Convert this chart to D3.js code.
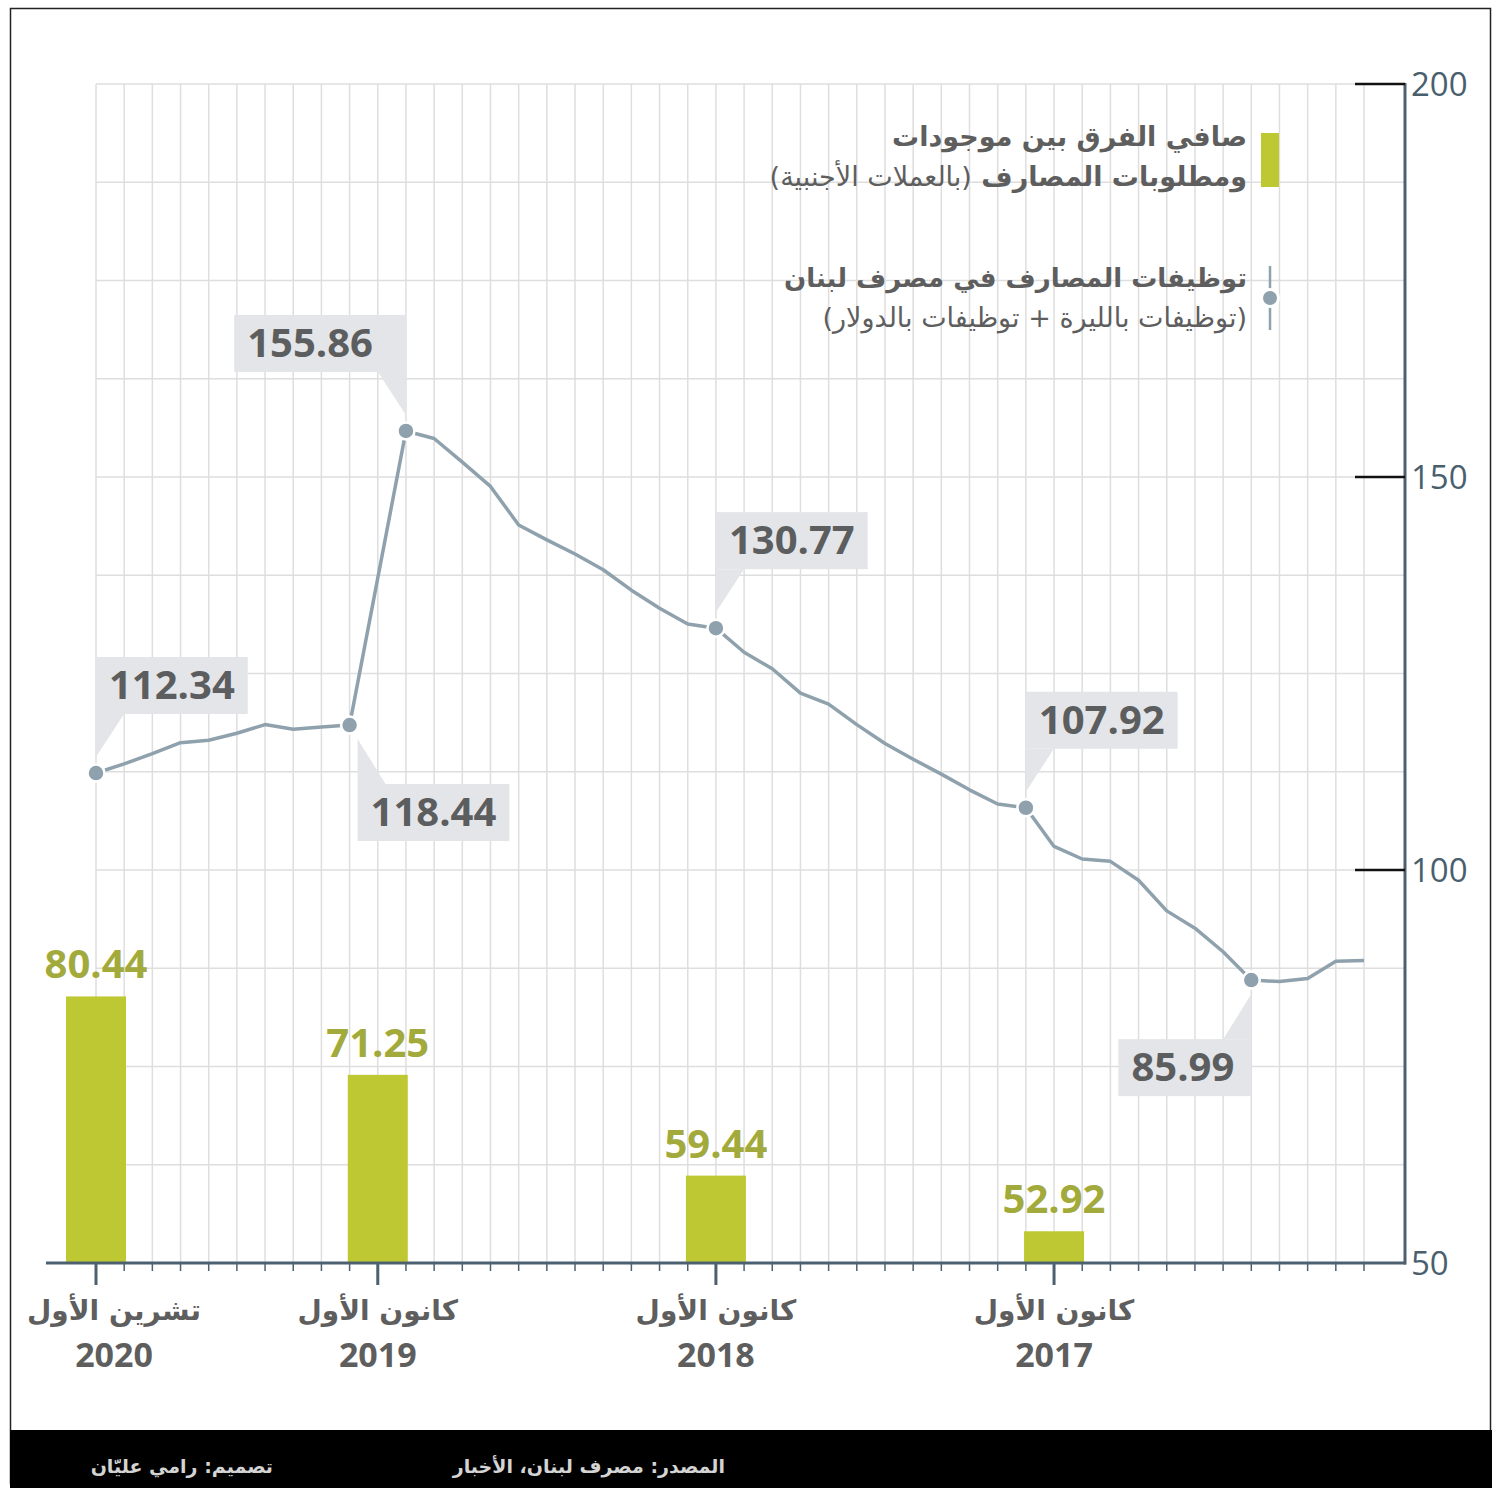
<!DOCTYPE html>
<html>
<head>
<meta charset="utf-8">
<script src="https://cdn.jsdelivr.net/npm/d3@7"></script>
<style>
  html, body { margin: 0; padding: 0; background: #fff; }
  svg { display: block; }
</style>
</head>
<body>
<div id="chart"></div>
<script>
// months from Oct 2020 (left) back to Jan 2017 (right)
const months = d3.timeMonth.range(new Date(2017, 0, 1), new Date(2020, 10, 1)).reverse();

// placements (BDL) in billions $, one per month, null = no reading
const placements = [
  112.34, 113.5, 114.8, 116.2, 116.5, 117.4, 118.5, 117.9, 118.2, 118.44,
  null, 155.86, 154.9, 151.9, 148.8, 143.9, 142.0, 140.2, 138.2, 135.6,
  133.3, 131.3, 130.77, 127.7, 125.6, 122.5, 121.1, 118.5, 116.1, 114.1,
  112.2, 110.2, 108.4, 107.92, 103.0, 101.4, 101.1, 98.7, 94.8, 92.6,
  89.6, 85.99, 85.8, 86.2, 88.4, 88.5
];

// net foreign currency position
const barMonths = ['2020-10', '2019-12', '2018-12', '2017-12'];
const barValues = [80.44, 71.25, 59.44, 52.92];

const tickMonths = ['2020-10', '2019-12', '2018-12', '2017-12'];
const tickNames = ['تشرين الأول', 'كانون الأول', 'كانون الأول', 'كانون الأول'];
const tickYears = ['2020', '2019', '2018', '2017'];

const yTicks = [50, 100, 150, 200];

// highlighted points
const noteMonths = ['2020-10', '2020-01', '2019-11', '2018-12', '2018-01', '2017-05'];
const noteDir = ['up', 'down', 'up', 'up', 'up', 'down'];
const noteSide = ['right', 'right', 'left', 'right', 'right', 'left'];

const W = 1499, H = 1488;
const fmt = d3.timeFormat('%Y-%m');
const keys = months.map(fmt);

const svg = d3.select('#chart').append('svg')
  .attr('width', W).attr('height', H);

const x = d3.scalePoint().domain(keys).range([96, 1364]);
const y = d3.scaleLinear().domain([50, 200]).range([1263, 84]);
const yBar = d3.scaleLinear().domain([49.2, 82.6]).range([1263, 978]);

const arabic = '"DejaVu Sans", sans-serif';
const latin = '"Open Sans", "Noto Sans", sans-serif';
const lineColor = '#8fa1ad';
const barColor = '#bec832';

// frame and footer
svg.append('rect')
  .attr('x', 10.5).attr('y', 8.5).attr('width', 1480).attr('height', 1475)
  .attr('fill', 'none').attr('stroke', '#222').attr('stroke-width', 1.5);
svg.append('rect')
  .attr('x', 10).attr('y', 1430).attr('width', 1482).attr('height', 58)
  .attr('fill', '#000');

// grid
const grid = svg.append('g');
grid.selectAll('line.v').data(keys).join('line')
  .attr('x1', d => x(d)).attr('x2', d => x(d))
  .attr('y1', y(200)).attr('y2', y(50))
  .attr('stroke', '#dedede').attr('stroke-width', 1.5);
grid.selectAll('line.h').data(d3.range(62.5, 200.1, 12.5)).join('line')
  .attr('x1', 96).attr('x2', 1405)
  .attr('y1', d => y(d)).attr('y2', d => y(d))
  .attr('stroke', '#dedede').attr('stroke-width', 1.5);

// bars
svg.append('g').selectAll('rect').data(barValues).join('rect')
  .attr('x', (d, i) => x(barMonths[i]) - 30)
  .attr('width', 60)
  .attr('y', d => yBar(d))
  .attr('height', d => yBar.range()[0] - yBar(d))
  .attr('fill', barColor);

svg.append('g').selectAll('text').data(barValues).join('text')
  .attr('x', (d, i) => x(barMonths[i]))
  .attr('y', d => yBar(d) - 18)
  .attr('text-anchor', 'middle')
  .attr('font-family', latin).attr('font-weight', 700).attr('font-size', 40)
  .attr('fill', '#a3aa3c')
  .text(d => d.toFixed(2));

// y axis (right)
svg.append('line')
  .attr('x1', 1405).attr('x2', 1405).attr('y1', y(200) - 1).attr('y2', y(50) + 1.5)
  .attr('stroke', '#4d6070').attr('stroke-width', 3);
svg.append('g').selectAll('line').data(yTicks.filter(d => d > 50)).join('line')
  .attr('x1', 1355).attr('x2', 1405)
  .attr('y1', d => y(d)).attr('y2', d => y(d))
  .attr('stroke', '#111').attr('stroke-width', 2.5);
svg.append('g').selectAll('text').data(yTicks).join('text')
  .attr('x', 1411).attr('y', d => y(d) + 12)
  .attr('font-family', latin).attr('font-size', 33)
  .attr('fill', '#4a5f6d')
  .text(d => d);

// x axis
svg.append('line')
  .attr('x1', 46).attr('x2', 1406).attr('y1', y(50)).attr('y2', y(50))
  .attr('stroke', '#4d6070').attr('stroke-width', 3);
svg.append('g').selectAll('line').data(keys).join('line')
  .attr('x1', d => x(d)).attr('x2', d => x(d))
  .attr('y1', y(50)).attr('y2', d => tickMonths.includes(d) ? y(50) + 22 : y(50) + 8)
  .attr('stroke', '#4d6070').attr('stroke-width', d => tickMonths.includes(d) ? 3 : 1.5);

const xl = svg.append('g').selectAll('g').data(tickMonths).join('g')
  .attr('transform', (d, i) => `translate(${x(d) + (i === 0 ? 18 : 0)},0)`);
xl.append('text')
  .attr('y', 1320).attr('text-anchor', 'middle')
  .attr('font-family', arabic).attr('font-weight', 700).attr('font-size', 28)
  .attr('fill', '#5e5e5e')
  .text((d, i) => tickNames[i]);
xl.append('text')
  .attr('y', 1367).attr('text-anchor', 'middle')
  .attr('font-family', latin).attr('font-weight', 700).attr('font-size', 34)
  .attr('fill', '#5e5e5e')
  .text((d, i) => tickYears[i]);

// line
const pts = keys.map((k, i) => ({ k, v: placements[i] })).filter(d => d.v != null);
svg.append('path')
  .datum(pts)
  .attr('fill', 'none')
  .attr('stroke', lineColor).attr('stroke-width', 3.5)
  .attr('stroke-linejoin', 'round')
  .attr('d', d3.line().x(d => x(d.k)).y(d => y(d.v)));

// annotations
const notes = noteMonths.map((k, i) => ({
  k, v: placements[keys.indexOf(k)], dir: noteDir[i], side: noteSide[i]
}));
const ng = svg.append('g');
notes.forEach(n => {
  const cx = x(n.k), cy = y(n.v);
  const g = ng.append('g');
  const box = g.append('rect').attr('fill', '#e4e5e8');
  const tri = g.append('path').attr('fill', '#e4e5e8');
  const t = g.append('text')
    .attr('font-family', latin).attr('font-weight', 700).attr('font-size', 40)
    .attr('fill', '#5b5d5e')
    .text(n.v.toFixed(2));
  const extra = n.side === 'left' ? (n.dir === 'up' ? 20 : 4) : 0;
  const bw = t.node().getComputedTextLength() + 26 + extra, bh = 57;
  const px = n.dir === 'down' && n.side === 'right' ? cx + 8 : cx;
  const tip = n.dir === 'up' ? cy - 16 : cy + 14;
  const edge = n.dir === 'up' ? tip - 43 : tip + 45;
  const bx = n.side === 'right' ? px : px - bw;
  const by = n.dir === 'up' ? edge - bh : edge;
  const s = n.side === 'right' ? 28 : -28;
  box.attr('x', bx).attr('y', by).attr('width', bw).attr('height', bh);
  tri.attr('d', `M${px},${edge}L${px + s},${edge}L${px},${tip}Z`);
  t.attr('x', bx + 13).attr('y', by + 42);
});

// dots
svg.append('g').selectAll('circle').data(notes).join('circle')
  .attr('cx', d => x(d.k)).attr('cy', d => y(d.v)).attr('r', 8.5)
  .attr('fill', lineColor).attr('stroke', '#fff').attr('stroke-width', 2.5);

// legend
const lg = svg.append('g').attr('font-family', arabic).attr('fill', '#5e5e5e').attr('font-size', 27);
lg.append('rect').attr('x', 1261).attr('y', 133).attr('width', 18).attr('height', 54).attr('fill', barColor);
lg.append('text').attr('x', 1247).attr('y', 146).attr('direction', 'rtl').attr('text-anchor', 'start')
  .attr('font-weight', 700).text('صافي الفرق بين موجودات');
const l2 = lg.append('text').attr('x', 1247).attr('y', 186).attr('direction', 'rtl').attr('text-anchor', 'start');
l2.append('tspan').attr('font-weight', 700).text('ومطلوبات المصارف ');
l2.append('tspan').attr('font-weight', 400).text('(بالعملات الأجنبية)');

lg.append('line').attr('x1', 1270).attr('x2', 1270).attr('y1', 266).attr('y2', 330)
  .attr('stroke', lineColor).attr('stroke-width', 2.5);
lg.append('circle').attr('cx', 1270).attr('cy', 298).attr('r', 8.5)
  .attr('fill', lineColor).attr('stroke', '#fff').attr('stroke-width', 3);
lg.append('text').attr('x', 1247).attr('y', 287).attr('direction', 'rtl').attr('text-anchor', 'start')
  .attr('font-weight', 700).attr('font-size', 26).text('توظيفات المصارف في مصرف لبنان');
lg.append('text').attr('x', 1247).attr('y', 327).attr('direction', 'rtl').attr('text-anchor', 'start')
  .attr('font-weight', 400).text('(توظيفات بالليرة + توظيفات بالدولار)');

// footer
const ft = svg.append('g').attr('font-family', arabic).attr('font-weight', 700)
  .attr('font-size', 19).attr('fill', '#d4d4d4');
ft.append('text').attr('x', 725).attr('y', 1473).attr('direction', 'rtl').attr('text-anchor', 'start')
  .text('المصدر: مصرف لبنان، الأخبار');
ft.append('text').attr('x', 273).attr('y', 1473).attr('direction', 'rtl').attr('text-anchor', 'start')
  .text('تصميم: رامي عليّان');
</script>
</body>
</html>
